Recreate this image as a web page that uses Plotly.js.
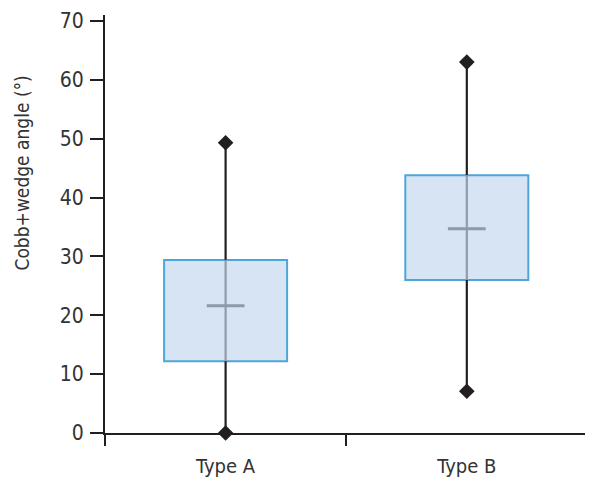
<!DOCTYPE html>
<html>
<head>
<meta charset="utf-8">
<script src="https://cdn.plot.ly/plotly-3.0.1.min.js"></script>
<style>html,body{margin:0;padding:0;background:#fff;}#chart{width:590px;height:481px;}</style>
</head>
<body>
<div id="chart"></div>
<script>
// Data
const categories = ["Type A", "Type B"];
const minValues = [0, 7.1];
const q1Values = [12.2, 26.0];
const medianValues = [21.6, 34.7];
const q3Values = [29.4, 43.8];
const maxValues = [49.3, 63.0];
const yTitle = "Cobb+wedge angle (°)";

const FONT = '"DejaVu Sans Condensed", "Liberation Sans Narrow", Roboto, sans-serif';
const INK = '#231f20';

const traces = [];

// Box bodies (bars from q1 to q3)
traces.push({
  type: 'bar',
  x: categories,
  base: q1Values,
  y: q3Values.map((v, i) => v - q1Values[i]),
  width: 0.51,
  marker: {color: '#d7e4f4', line: {color: '#4ea5db', width: 2}},
  hoverinfo: 'skip',
  showlegend: false
});

categories.forEach((c, i) => {
  traces.push({type: 'scatter', mode: 'lines', x: [c, c], y: [minValues[i], q1Values[i]],
    line: {color: INK, width: 2.2}, showlegend: false, hoverinfo: 'skip', cliponaxis: false});
  traces.push({type: 'scatter', mode: 'lines', x: [c, c], y: [q3Values[i], maxValues[i]],
    line: {color: INK, width: 2.2}, showlegend: false, hoverinfo: 'skip', cliponaxis: false});
  traces.push({type: 'scatter', mode: 'lines', x: [c, c], y: [q1Values[i], q3Values[i]],
    line: {color: '#8e9cac', width: 2.2}, showlegend: false, hoverinfo: 'skip'});
});

// Median marks
traces.push({
  type: 'scatter', mode: 'markers', x: categories, y: medianValues,
  marker: {symbol: 'line-ew', size: 27, line: {color: '#8d9aa7', width: 3}},
  showlegend: false, hoverinfo: 'skip'
});

// Min / max diamonds
traces.push({
  type: 'scatter', mode: 'markers',
  x: categories.concat(categories), y: minValues.concat(maxValues),
  marker: {symbol: 'diamond', size: 12, color: INK},
  cliponaxis: false, showlegend: false, hoverinfo: 'skip'
});

const layout = {
  width: 590, height: 481,
  margin: {l: 105, r: 5, t: 15, b: 48},
  paper_bgcolor: '#fff', plot_bgcolor: '#fff',
  font: {family: FONT, color: INK, size: 20},
  showlegend: false,
  xaxis: {
    type: 'category',
    range: [-0.5, 1.49],
    tickson: 'boundaries',
    ticks: 'outside', ticklen: 11, tickwidth: 2, tickcolor: INK,
    showline: true, linecolor: INK, linewidth: 2,
    showgrid: false, zeroline: false,
    tickfont: {family: FONT, size: 20, color: '#333'},
    ticklabelstandoff: 14,
    fixedrange: true
  },
  yaxis: {
    range: [0, 71],
    tickvals: [0, 10, 20, 30, 40, 50, 60, 70],
    ticks: 'outside', ticklen: 13, tickwidth: 2, tickcolor: INK,
    showline: true, linecolor: INK, linewidth: 2,
    showgrid: false, zeroline: false,
    tickfont: {family: FONT, size: 21, color: '#333'},
    ticklabelstandoff: 2,
    fixedrange: true
  },
  annotations: [{
    text: yTitle, textangle: -90, showarrow: false,
    xref: 'paper', yref: 'paper', x: -0.173, y: 0.623,
    xanchor: 'center', yanchor: 'middle',
    font: {family: FONT, size: 19, color: '#333'}
  }]
};

Plotly.newPlot('chart', traces, layout, {displayModeBar: false, staticPlot: true});
</script>
</body>
</html>
